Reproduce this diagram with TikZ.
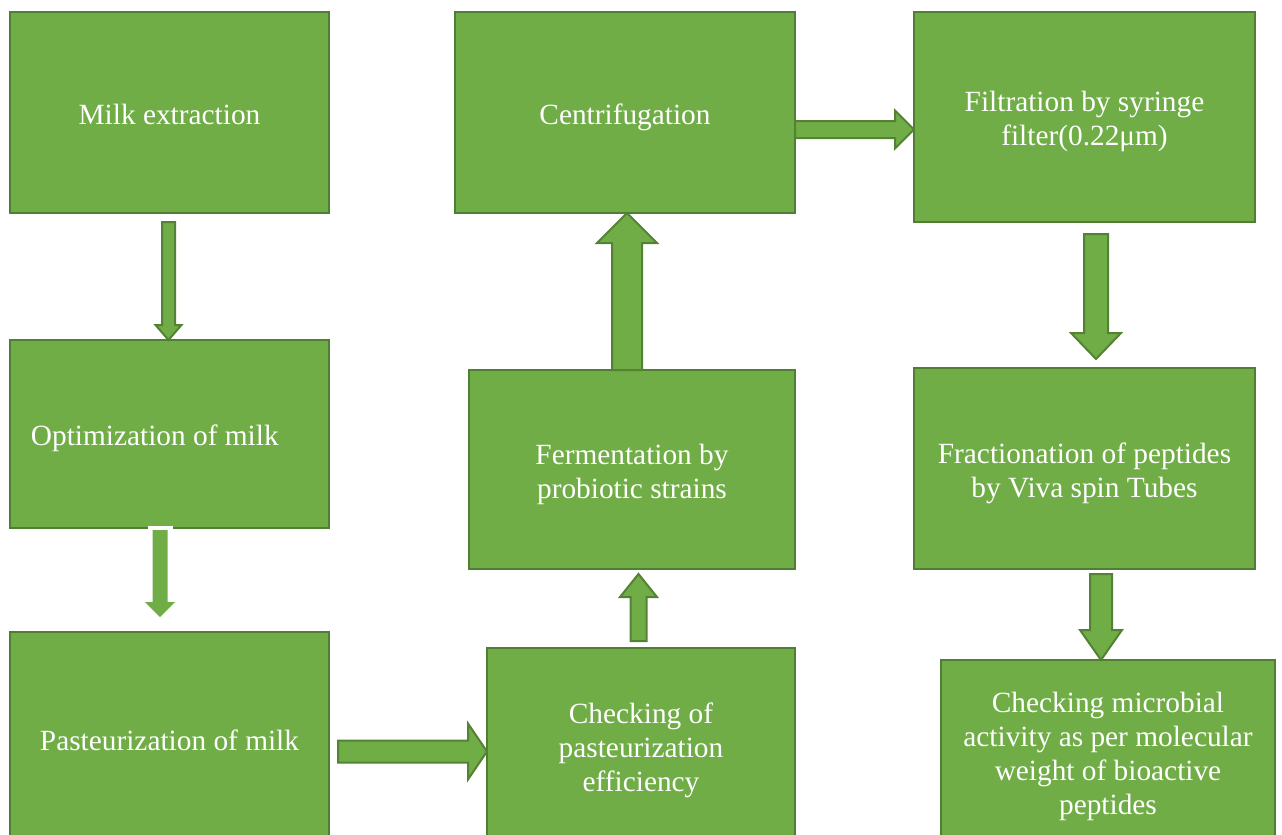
\documentclass[tikz,border=0pt]{standalone}
\usepackage{fontspec}
\setmainfont{Liberation Serif}
\definecolor{boxfill}{HTML}{70AD47}
\definecolor{boxline}{HTML}{507E32}
\definecolor{arrline}{HTML}{548235}
\newcommand\vblk[7][arr]{\draw[#1] (#2-#6,#3) -- (#2+#6,#3) -- (#2+#6,#4) -- (#2+#7,#4) -- (#2,#5) -- (#2-#7,#4) -- (#2-#6,#4) -- cycle;}
\newcommand\hblk[7][arr]{\draw[#1] (#3,#2-#6) -- (#3,#2+#6) -- (#4,#2+#6) -- (#4,#2+#7) -- (#5,#2) -- (#4,#2-#7) -- (#4,#2-#6) -- cycle;}
\newcommand\bt[1]{\raisebox{-3.8pt}[\height][\depth]{\begin{tabular}{@{}c@{}}#1\end{tabular}}}
\begin{document}
\begin{tikzpicture}[x=0.75pt,y=-0.75pt,
  box/.style={draw=boxline,fill=boxfill,line width=1.5pt,text=white,
    font=\fontsize{22}{25.5}\selectfont,inner sep=0pt},
  arr/.style={draw=arrline,fill=boxfill,line width=1.5pt,line join=miter},
  arrnb/.style={draw=none,fill=boxfill}]
\useasboundingbox (0,0) rectangle (1282,835);
\clip (0,0) rectangle (1282,835);
% boxes
\node[box,minimum width=319*0.75pt,minimum height=201*0.75pt] (milk) at (169.5,112.5) {\bt{Milk extraction}};
\node[box,minimum width=319*0.75pt,minimum height=188*0.75pt] (opt) at (169.5,434) {\bt{Optimization of milk\hspace*{22pt}}};
\node[box,minimum width=319*0.75pt,minimum height=213*0.75pt] (past) at (169.5,738.5) {\bt{Pasteurization of milk}};
\node[box,minimum width=308*0.75pt,minimum height=195*0.75pt] (check) at (641,745.5) {\bt{Checking of\\pasteurization\\efficiency}};
\node[box,minimum width=326*0.75pt,minimum height=199*0.75pt] (ferm) at (632,469.5) {\bt{Fermentation by\\probiotic strains}};
\node[box,minimum width=340*0.75pt,minimum height=201*0.75pt] (cent) at (625,112.5) {\bt{Centrifugation}};
\node[box,minimum width=341*0.75pt,minimum height=210*0.75pt] (filt) at (1084.5,117) {\bt{Filtration by syringe\\filter(0.22μm)}};
\node[box,minimum width=341*0.75pt,minimum height=201*0.75pt] (frac) at (1084.5,468.5) {\bt{Fractionation of peptides\\by Viva spin Tubes}};
\node[box,minimum width=334*0.75pt,minimum height=183*0.75pt] (micro) at (1108,751.5) {\bt{Checking microbial\\activity as per molecular\\weight of bioactive\\peptides}};
% block arrows
\vblk{168.5}{222}{325}{340}{6.5}{13}
\fill[white] (148,526) rectangle (173,531);
\vblk[arrnb]{160}{530}{602}{617}{7.5}{15}
\hblk{751.5}{338}{468}{487}{11}{28}
\vblk{638.5}{641}{597}{574}{8}{18.5}
\vblk{627}{370}{243}{213}{15}{30}
\hblk{129.5}{795}{895}{914}{8.5}{19}
\vblk{1096}{234}{333}{359}{12}{25}
\vblk{1101}{574}{630}{660}{11}{21}
\end{tikzpicture}
\end{document}
